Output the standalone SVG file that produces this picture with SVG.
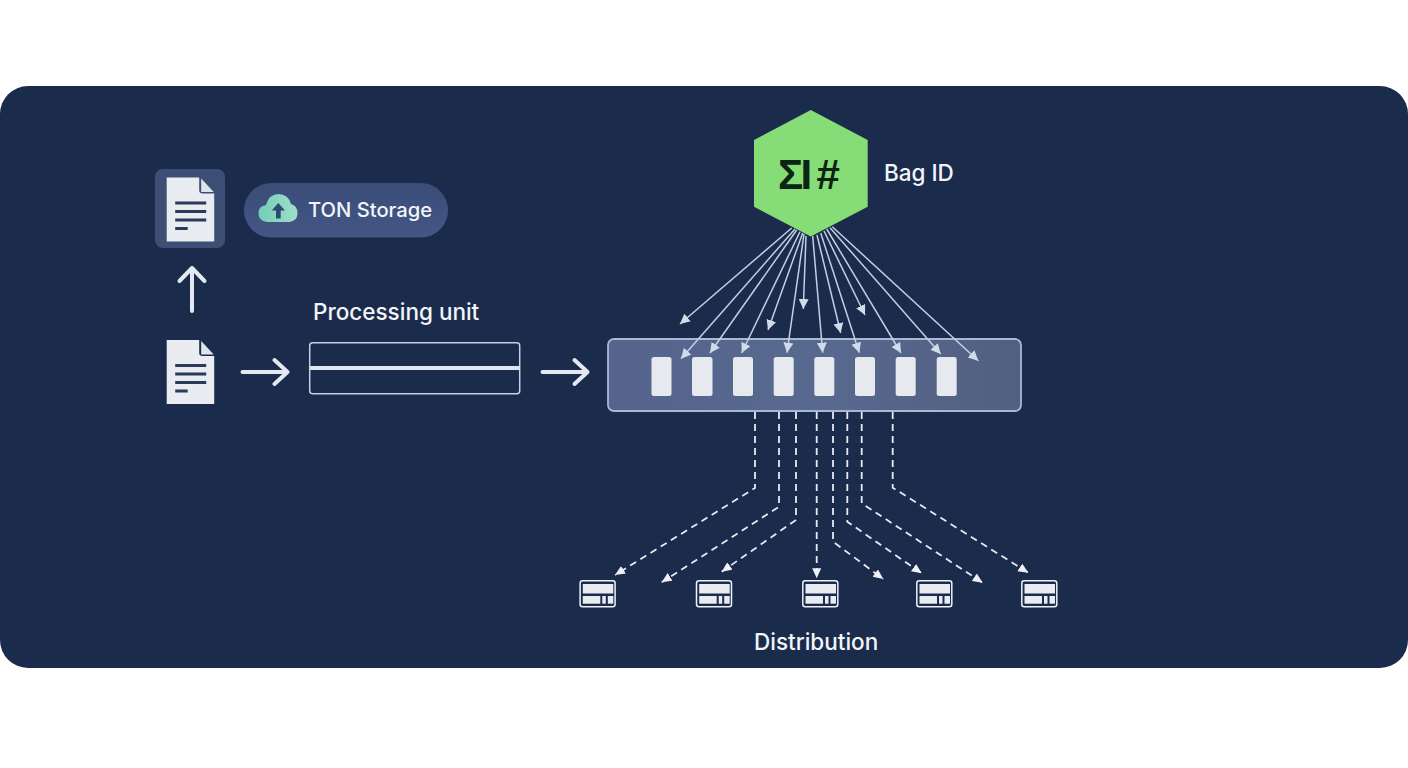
<svg xmlns="http://www.w3.org/2000/svg" width="1408" height="768" viewBox="0 0 1408 768">
<style>
text{font-family:Inter,"Liberation Sans",sans-serif;fill:#f2f5f9}
.lbl{font-size:22.5px;font-weight:500}
.fan{stroke:#c3cfe2;stroke-width:1.5;fill:none;marker-end:url(#tip)}
.dash{stroke:#e6ebf3;stroke-width:1.8;fill:none;stroke-dasharray:7 5;marker-end:url(#tipd)}
.big{stroke:#e4e9f1;stroke-width:4;fill:none;stroke-linecap:round;stroke-linejoin:round}
.slot{fill:#e6e9ee}
</style>
<defs>
<marker id="tip" markerUnits="userSpaceOnUse" markerWidth="11" markerHeight="11" refX="10" refY="5" orient="auto"><path d="M0 0L10 5L0 10Z" fill="#d2dbe9"/></marker>
<marker id="tipd" markerUnits="userSpaceOnUse" markerWidth="11" markerHeight="10" refX="10" refY="4.5" orient="auto"><path d="M0 0L10 4.5L0 9Z" fill="#eef1f6"/></marker>
<linearGradient id="bar" x1="0" y1="0" x2="1" y2="0"><stop offset="0" stop-color="#54648c"/><stop offset=".5" stop-color="#586990"/><stop offset="1" stop-color="#515f80"/></linearGradient>
<linearGradient id="pill" x1="0" y1="0" x2="0" y2="1"><stop offset="0" stop-color="#3a4c78"/><stop offset="1" stop-color="#445684"/></linearGradient>
<linearGradient id="cloud" x1="0" y1="0" x2="1" y2="0"><stop offset="0" stop-color="#74cdb6"/><stop offset="1" stop-color="#9fe0cb"/></linearGradient>
<g id="doc">
<path d="M0 0H32.500V13Q32.500 16 36 16H47.500V64H0Z" fill="#e9edf2"/>
<path d="M34.500 1L47 14.500H34.500Z" fill="#e0e5ec"/>
<path d="M8.500 25.500H39.500M8.500 34H39.500M8.500 42.500H39.500M8.500 51H21" stroke="#2b3a58" stroke-width="2.800" fill="none"/>
</g>
<g id="srv">
<rect x="0.800" y="0.800" width="35" height="26" rx="2.500" fill="#1b2b4b" stroke="#eef1f6" stroke-width="1.500"/>
<rect x="3.500" y="4" width="30.500" height="9.500" fill="#e9edf2"/>
<rect x="3.500" y="16" width="17.500" height="7.700" fill="#e9edf2"/>
<rect x="23" y="16" width="3.500" height="7.700" fill="#e9edf2"/>
<rect x="28.500" y="16" width="5.500" height="7.700" fill="#e9edf2"/>
</g>
</defs>
<rect width="1408" height="768" fill="#ffffff"/>
<rect id="panel" x="0" y="86" width="1408" height="582" rx="28" fill="#1b2b4b"/>
<g id="connectors">
<path class="big" d="M192 311V268M179.500 281L192 268L204.500 281"/>
<path class="big" d="M242.500 372H287M274.500 360L287.500 372L274.500 384"/>
<path class="big" d="M542.500 372H587M574.500 360L587.500 372L574.500 384"/>
</g>
<g id="storage-doc"><rect x="155" y="169" width="70" height="79" rx="8" fill="#3d4f75"/><use href="#doc" x="166.700" y="177.500"/></g>
<g id="ton-storage"><rect x="244" y="183" width="204" height="54.500" rx="27.200" fill="url(#pill)"/>
<path d="M267 222Q258.500 221 258.500 213Q258.500 206 266 205Q269 194 278.500 194Q288 194 291 204Q297.500 206 297.500 213Q297.500 221 289.500 222Z" fill="url(#cloud)"/>
<path d="M278.300 203L285 210.500H280.700V218.500H276V210.500H271.700Z" fill="#2d4a72"/>
<text x="308" y="217" style="font-size:20.200px;font-weight:500">TON Storage</text></g>
<g id="source-doc"><use href="#doc" x="166.700" y="340"/></g>
<g id="processing-unit"><text class="lbl" x="313" y="320">Processing unit</text>
<rect x="309.700" y="342.700" width="210" height="51" rx="3" fill="none" stroke="#c5d0e2" stroke-width="1.500"/>
<path d="M310 368H520" stroke="#dfe5ee" stroke-width="4"/></g>
<g id="slots"><rect x="608" y="339" width="413" height="72" rx="6" fill="url(#bar)" stroke="#a9b8d4" stroke-width="1.800"/>
<rect class="slot" x="651.500" y="357" width="20" height="39" rx="2.500"/>
<rect class="slot" x="692" y="357" width="20.500" height="39" rx="2.500"/>
<rect class="slot" x="733" y="357" width="20" height="39" rx="2.500"/>
<rect class="slot" x="773.700" y="357" width="20" height="39" rx="2.500"/>
<rect class="slot" x="814.300" y="357" width="20" height="39" rx="2.500"/>
<rect class="slot" x="855" y="357" width="20" height="39" rx="2.500"/>
<rect class="slot" x="895.700" y="357" width="20" height="39" rx="2.500"/>
<rect class="slot" x="936.700" y="357" width="20" height="39" rx="2.500"/></g>
<g id="fan">
<path class="fan" d="M791.700 228L680 324"/>
<path class="fan" d="M795 229L681 358.700"/>
<path class="fan" d="M796.700 230L710 353"/>
<path class="fan" d="M800 231.700L741.700 353"/>
<path class="fan" d="M802.700 233L768 330"/>
<path class="fan" d="M804 234L787 352.700"/>
<path class="fan" d="M806 236L803.300 309"/>
<path class="fan" d="M812.700 236L822.700 352.700"/>
<path class="fan" d="M817 235L840.700 333"/>
<path class="fan" d="M820.700 233L859.300 352.700"/>
<path class="fan" d="M824 231L865 315"/>
<path class="fan" d="M826.700 229L901 353"/>
<path class="fan" d="M830 227.700L940.700 354"/>
<path class="fan" d="M832.300 226.700L978.300 360.700"/>
</g>
<g id="bag-id"><path d="M810.800 110L867.700 140V206.700L810.800 236.500L754 206.700V140Z" fill="#86dc76"/>
<text y="188.500" style="fill:#0c2412;font-size:42px;font-family:'Liberation Sans',sans-serif;font-weight:700"><tspan x="778">Σ</tspan><tspan x="800.500">I</tspan><tspan x="816.500">#</tspan></text>
<text class="lbl" x="884" y="181">Bag ID</text></g>
<g id="dist-lines">
<path class="dash" d="M755 412V488L615 575"/>
<path class="dash" d="M779 412V506.700L661.700 582.300"/>
<path class="dash" d="M796 412V520L721.700 571.700"/>
<path class="dash" d="M816.700 412V578.300"/>
<path class="dash" d="M833 412V541.700L883.300 579"/>
<path class="dash" d="M847.300 412V521.700L921.700 573.300"/>
<path class="dash" d="M861.700 412V503.300L982.700 582.700"/>
<path class="dash" d="M892.700 412V487.700L1028.300 572.700"/>
</g>
<g id="server-1"><use href="#srv" x="579.300" y="580"/></g>
<g id="server-2"><use href="#srv" x="695.700" y="580"/></g>
<g id="server-3"><use href="#srv" x="802" y="580"/></g>
<g id="server-4"><use href="#srv" x="916" y="580"/></g>
<g id="server-5"><use href="#srv" x="1021" y="580"/></g>
<text class="lbl" x="754" y="650">Distribution</text>
</svg>
